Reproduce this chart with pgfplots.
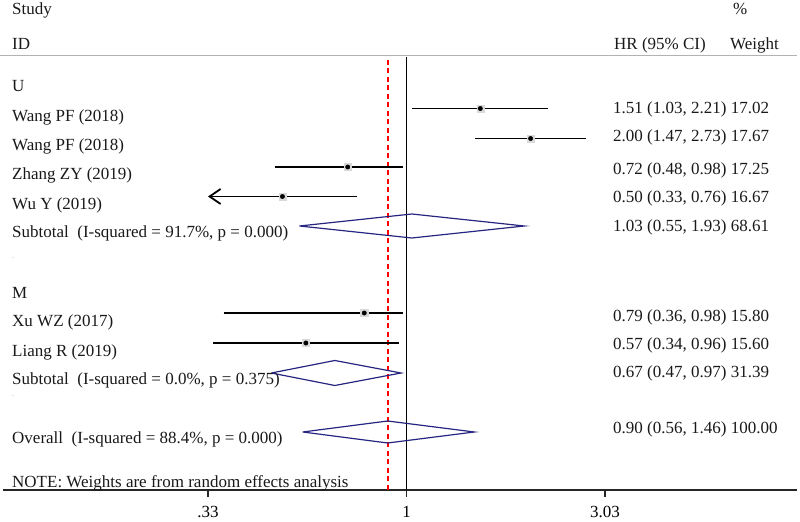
\documentclass[border=0pt]{standalone}
\usepackage{pgfplots}
\pgfplotsset{compat=1.18}
\usetikzlibrary{arrows.meta}
\usepackage{fontspec}
\setmainfont{Liberation Serif}
\definecolor{navyd}{RGB}{38,38,130}
\newcommand{\tf}{\fontsize{17bp}{19bp}\selectfont}
\begin{document}
\begin{tikzpicture}[x=1bp,y=1bp]
\path[use as bounding box] (0,-32) rectangle (800,490);
\begin{axis}[
  at={(3bp,0bp)}, anchor=south west,
  scale only axis, width=794bp, height=490bp,
  xmode=log, xmin=0.1050, xmax=8.855, ymin=0, ymax=490,
  axis x line=bottom, axis y line=none,
  x axis line style={-, black!85, line width=1.1bp},
  xtick={0.33,1,3.03}, xticklabels={.33,1,3.03},
  minor xtick={}, log ticks with fixed point,
  tick align=outside, major tick length=7bp,
  tick style={black!85, line width=1.1bp},
  /pgf/number format/assume math mode=true,
  xticklabel style={font=\tf, anchor=base, yshift=-21bp},
  clip=false,
]
% reference lines
\addplot[black, line width=1.6bp] coordinates {(1,0) (1,433)};
\addplot[red, line width=1.8bp, dash pattern=on 5bp off 3.5bp] coordinates {(0.90,0) (0.90,433)};
% study CIs
\addplot[black, line width=1.8bp] coordinates {(1.03,381.5) (2.21,381.5)};
\addplot[black, line width=1.8bp] coordinates {(1.47,351.5) (2.73,351.5)};
\addplot[black, line width=1.8bp] coordinates {(0.48,323) (0.98,323)};
\addplot[black, line width=1.8bp, -{Straight Barb[length=11bp,width=15bp,line width=1.8bp]}] coordinates {(0.76,293.5) (0.33,293.5)};
\addplot[black, line width=1.8bp] coordinates {(0.36,177) (0.98,177)};
\addplot[black, line width=1.8bp] coordinates {(0.34,147) (0.96,147)};
% weight boxes and point estimates
\addplot[only marks, mark=square*, color=black!15, mark size=3.6bp] coordinates {(1.51,381.5) (2.00,351.5) (0.72,323) (0.50,293.5) (0.79,177) (0.57,147)};
\addplot[only marks, mark=*, mark size=2.2bp, color=black] coordinates {(1.51,381.5) (2.00,351.5) (0.72,323) (0.50,293.5) (0.79,177) (0.57,147)};
% diamonds
\addplot[navyd, line width=1.2bp] coordinates {(0.55,264) (1.03,276) (1.93,264) (1.03,252) (0.55,264)};
\addplot[navyd, line width=1.2bp] coordinates {(0.47,117) (0.67,129.5) (0.97,117) (0.67,104.5) (0.47,117)};
\addplot[navyd, line width=1.2bp] coordinates {(0.56,58) (0.90,69) (1.46,58) (0.90,47) (0.56,58)};
\end{axis}
\draw[black!30, line width=1bp] (0,434) -- (797,434);
\tf
\begin{scope}[every node/.style={anchor=base west, inner sep=0pt, text=black!90}]
\node at (12,475) {Study};
\node at (12,440) {ID};
\node at (12,398.3) {U};
\node at (12,368.3) {Wang PF (2018)};
\node at (12,339.3) {Wang PF (2018)};
\node at (12,310) {Zhang ZY (2019)};
\node at (12,280) {Wu Y (2019)};
\node at (12,252.7) {Subtotal\ \ (I-squared = 91.7\%, p = 0.000)};
\node[text=black!35, font=\fontsize{8bp}{8bp}\selectfont] at (12,231) {.};
\node at (12,191.7) {M};
\node at (12,163.3) {Xu WZ (2017)};
\node at (12,133.3) {Liang R (2019)};
\node at (12,105) {Subtotal\ \ (I-squared = 0.0\%, p = 0.375)};
\node[text=black!35, font=\fontsize{8bp}{8bp}\selectfont] at (12,93) {.};
\node at (12,46) {Overall\ \ (I-squared = 88.4\%, p = 0.000)};
\node at (12,2.3) {NOTE: Weights are from random effects analysis};
\node at (733,475) {\%};
\node at (614,440) {HR (95\% CI)};
\node at (730,440) {Weight};
\node at (613,376.7) {1.51 (1.03, 2.21) 17.02};
\node at (613,348.3) {2.00 (1.47, 2.73) 17.67};
\node at (613,315) {0.72 (0.48, 0.98) 17.25};
\node at (613,287) {0.50 (0.33, 0.76) 16.67};
\node at (613,258.3) {1.03 (0.55, 1.93) 68.61};
\node at (613,168.3) {0.79 (0.36, 0.98) 15.80};
\node at (613,140) {0.57 (0.34, 0.96) 15.60};
\node at (613,112) {0.67 (0.47, 0.97) 31.39};
\node at (613,56.7) {0.90 (0.56, 1.46) 100.00};
\end{scope}
\end{tikzpicture}
\end{document}
